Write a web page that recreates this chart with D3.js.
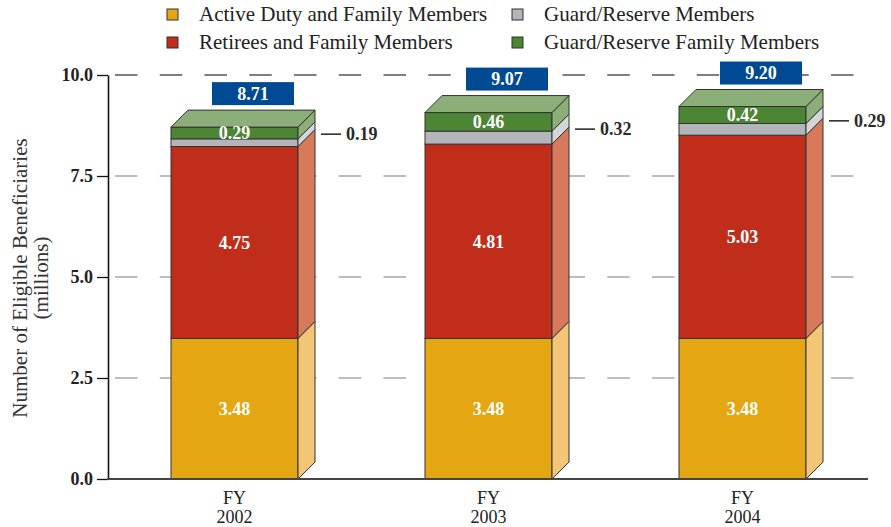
<!DOCTYPE html>
<html>
<head>
<meta charset="utf-8">
<script src="https://cdn.jsdelivr.net/npm/d3@7/dist/d3.min.js"></script>
<style>
  html, body { margin: 0; padding: 0; background: #fff; }
  svg { display: block; font-family: "Liberation Serif", "Times New Roman", serif; }
</style>
</head>
<body>
<svg id="chart" width="891" height="527"></svg>
<script>
// ---- Data ----
const years = ["2002", "2003", "2004"];
const seriesNames = ["Active Duty and Family Members", "Retirees and Family Members", "Guard/Reserve Members", "Guard/Reserve Family Members"];
const activeDuty = [3.48, 3.48, 3.48];
const retirees = [4.75, 4.81, 5.03];
const guardReserve = [0.19, 0.32, 0.29];
const guardReserveFamily = [0.29, 0.46, 0.42];
const totals = [8.71, 9.07, 9.20];
const yTicks = [0, 2.5, 5, 7.5, 10];
const yTitle = ["Number of Eligible Beneficiaries", "(millions)"];

// ---- Styles ----
const frontColors = ["#E5A613", "#C02D1A", "#B4B5B9", "#4C8533"];
const sideColors  = ["#F2C577", "#D7795B", "#D4D5D7", "#8CAE79"];
const topColor = "#8CAE79";
const boxColor = "#004A93";
const edge = "#333";

const svg = d3.select("#chart");
const barW = 127, depth = 17;

const y = d3.scaleLinear().domain([0, 10]).range([479, 75]);
const x = d3.scalePoint().domain(years).range([234.5, 742.5]);

const rows = years.map((yr, i) => ({
  year: yr,
  s0: activeDuty[i], s1: retirees[i], s2: guardReserve[i], s3: guardReserveFamily[i],
  total: totals[i]
}));
const keys = ["s0", "s1", "s2", "s3"];
const stacked = d3.stack().keys(keys)(rows);

// ---- Gridlines ----
svg.append("g").selectAll("line").data(yTicks.filter(d => d > 0)).join("line")
  .attr("x1", 115).attr("x2", 856)
  .attr("y1", d => y(d)).attr("y2", d => y(d))
  .attr("stroke", d => d === 10 ? "#555" : "#a8a8a8")
  .attr("stroke-width", 1.3)
  .attr("stroke-dasharray", "22.5,22.25");

// ---- Bars ----
const gBars = svg.append("g");
stacked.forEach((layer, li) => {
  layer.forEach((seg, i) => {
    const cx = x(rows[i].year);
    const x0 = cx - barW / 2, x1 = cx + barW / 2;
    const yb = y(seg[0]), yt = y(seg[1]);
    gBars.append("rect")
      .attr("x", x0).attr("y", yt).attr("width", barW).attr("height", yb - yt)
      .attr("fill", frontColors[li]).attr("stroke", edge).attr("stroke-width", 1);
    gBars.append("polygon")
      .attr("points", [[x1, yb], [x1 + depth, yb - depth], [x1 + depth, yt - depth], [x1, yt]].map(p => p.join(",")).join(" "))
      .attr("fill", sideColors[li]).attr("stroke", edge).attr("stroke-width", 1).attr("stroke-linejoin", "round");
    if (li === keys.length - 1) {
      gBars.append("polygon")
        .attr("points", [[x0, yt], [x0 + depth, yt - depth], [x1 + depth, yt - depth], [x1, yt]].map(p => p.join(",")).join(" "))
        .attr("fill", topColor).attr("stroke", edge).attr("stroke-width", 1).attr("stroke-linejoin", "round");
    }
  });
});

// ---- Segment labels ----
const gLab = svg.append("g");
stacked.forEach((layer, li) => {
  layer.forEach((seg, i) => {
    const cx = x(rows[i].year);
    const val = seg.data[keys[li]];
    const ym = (y(seg[0]) + y(seg[1])) / 2;
    if (li === 2) {
      const xr = cx + barW / 2 + depth;
      const yl = ym - depth / 2;
      gLab.append("line").attr("x1", xr + 6).attr("x2", xr + 26).attr("y1", yl).attr("y2", yl)
        .attr("stroke", "#222").attr("stroke-width", 1.5);
      gLab.append("text").attr("x", xr + 31).attr("y", yl).attr("dy", "0.35em")
        .attr("font-size", 18).attr("font-weight", "bold").attr("fill", "#2a2a2a")
        .text(val.toFixed(2));
    } else {
      gLab.append("text").attr("x", cx).attr("y", ym).attr("dy", "0.35em")
        .attr("text-anchor", "middle").attr("font-size", 18).attr("font-weight", "bold")
        .attr("fill", "#fff").text(val.toFixed(2));
    }
  });
});

// ---- Total boxes ----
rows.forEach((r, i) => {
  const cx = x(r.year) + 18.5;
  const top = y(stacked[3][i][1]) - depth;
  const bw = 82, bh = 23;
  svg.append("rect").attr("x", cx - bw / 2).attr("y", top - 5 - bh).attr("width", bw).attr("height", bh)
    .attr("fill", boxColor);
  svg.append("text").attr("x", cx).attr("y", top - 5 - bh / 2).attr("dy", "0.35em")
    .attr("text-anchor", "middle").attr("font-size", 18).attr("font-weight", "bold").attr("fill", "#fff")
    .text(r.total.toFixed(2));
});

// ---- Axes ----
const yAxis = d3.axisLeft(y).tickValues(yTicks).tickFormat(d3.format(".1f"))
  .tickSize(11).tickSizeOuter(0).tickPadding(4);
const gy = svg.append("g").attr("transform", "translate(108,0)").call(yAxis);
gy.select(".domain").attr("stroke", "#111").attr("stroke-width", 1.6);
gy.selectAll(".tick line").attr("stroke", "#111").attr("stroke-width", 1.3);
gy.selectAll(".tick text").attr("font-family", "Liberation Serif, serif").attr("font-size", 18)
  .attr("font-weight", "bold").attr("fill", "#222");

svg.append("line").attr("x1", 107).attr("x2", 868).attr("y1", y(0)).attr("y2", y(0))
  .attr("stroke", "#444").attr("stroke-width", 2);

// x labels
const gx = svg.append("g");
years.forEach(yr => {
  gx.append("text").attr("x", x(yr)).attr("y", 504).attr("text-anchor", "middle")
    .attr("font-size", 18).attr("fill", "#222").text("FY");
  gx.append("text").attr("x", x(yr)).attr("y", 523).attr("text-anchor", "middle")
    .attr("font-size", 18).attr("fill", "#222").text(yr);
});

// y title
const gt = svg.append("g").attr("transform", "translate(0,278) rotate(-90)");
gt.append("text").attr("x", 0).attr("y", 27).attr("text-anchor", "middle")
  .attr("font-size", 21).attr("fill", "#333").text(yTitle[0]);
gt.append("text").attr("x", 0).attr("y", 48).attr("text-anchor", "middle")
  .attr("font-size", 21).attr("fill", "#333").text(yTitle[1]);

// ---- Legend ----
const legendPos = [[199, 21], [544, 21], [199, 49], [544, 49]];
const legendOrder = [0, 2, 1, 3];
legendOrder.forEach((si, k) => {
  const [tx, ty] = legendPos[k];
  svg.append("rect").attr("x", tx - 32).attr("y", ty - 12).attr("width", 11).attr("height", 11)
    .attr("fill", frontColors[si]).attr("stroke", edge).attr("stroke-width", 1);
  svg.append("text").attr("x", tx).attr("y", ty).attr("font-size", 21).attr("fill", "#222")
    .text(seriesNames[si]);
});
</script>
</body>
</html>
